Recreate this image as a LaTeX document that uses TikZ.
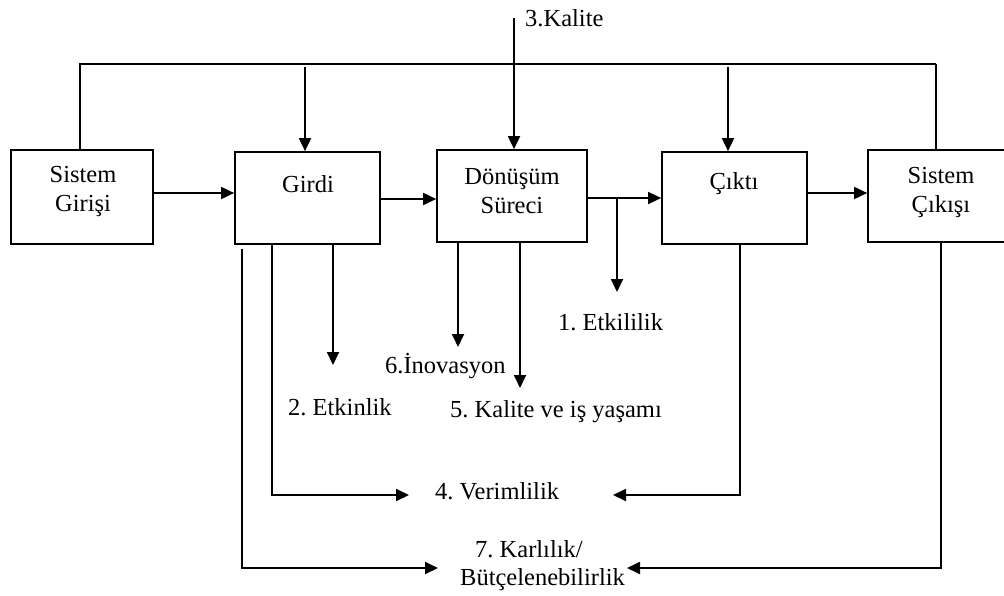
\documentclass[tikz,border=0pt]{standalone}
\usepackage{fontspec}
\setmainfont{Liberation Serif}
\usetikzlibrary{arrows.meta,calc}
\frenchspacing
\begin{document}
\begin{tikzpicture}[x=1pt,y=-1pt,
  box/.style={draw,line width=1.7pt,minimum height=92pt,inner sep=0pt},
  lbl/.style={font=\fontsize{24.5}{29}\selectfont,inner sep=0pt,align=center},
  link/.style={line width=1.8pt},
  arr/.style={link,-{Triangle[length=13pt,width=12pt]}}]
\useasboundingbox (0,0) rectangle (1004,595);
\clip (0,0) rectangle (1004,595);

% system boxes
\node[box,minimum width=142pt,minimum height=94pt] (sg) at (82,197) {};
\node[box,minimum width=145pt] (girdi) at (307.5,198) {};
\node[box,minimum width=150pt] (donusum) at (512,196) {};
\node[box,minimum width=145pt] (cikti) at (734.5,198) {};
\node[box,minimum width=146pt] (sc) at (941,196) {};

% box captions
\node[lbl] (sgText) at (83,191) {Sistem\\Girişi};
\node[lbl] (girdiText) at (308,184) {Girdi};
\node[lbl] (donText) at (512,191) {Dönüşüm\\Süreci};
\node[lbl] (ciktiText) at (734,184) {Çıktı};
\node[lbl] (scText) at (941,192) {Sistem\\Çıkışı};

% performance criteria
\node[lbl,anchor=base west] (kalite3) at (525,26) {3.Kalite};
\node[lbl,anchor=base west] (etkililik) at (558,330) {1. Etkililik};
\node[lbl,anchor=base west] (etkinlik) at (288,415) {2. Etkinlik};
\node[lbl,anchor=base west] (inovasyon) at (385,373) {6.İnovasyon};
\node[lbl,anchor=base west] (kalite5) at (450,417) {5. Kalite ve iş yaşamı};
\node[lbl,anchor=base west] (verim) at (435,499) {4. Verimlilik};
\node[lbl,anchor=base west] (karlilik) at (475,557) {7. Karlılık/};
\node[lbl,anchor=base west] (butce) at (460,585) {Bütçelenebilirlik};

% feedback frame along the top
\coordinate (tl) at (80,64);
\coordinate (tr) at (936,64);
\draw[link] ([xshift=-2pt]sg.north) -- (tl) -- (tr);
\draw[line width=2.8pt] (tr) -- ([xshift=-5pt]sc.north);

\coordinate (gIn) at (305,67);
\coordinate (cIn) at (728,67);
\coordinate (kIn) at (514,18);
\draw[arr] (gIn) -- ([xshift=-2.5pt]girdi.north);
\draw[arr] (cIn) -- ([xshift=-6.5pt]cikti.north);
\draw[arr] (kIn) -- ([xshift=2pt]donusum.north);

% main flow
\draw[arr] ($(sg.east)+(0,-4)$) -- ($(girdi.west)+(0,-5)$);
\draw[arr] ($(girdi.east)+(0,1)$) -- ($(donusum.west)+(0,3)$);
\draw[arr] ($(donusum.east)+(0,2)$) -- (cikti.west);
\draw[arr] ($(cikti.east)+(0,-5)$) -- ($(sc.west)+(0,-3)$);

% branches downward
\coordinate (br) at (617,198);
\coordinate (e1) at (617,292);
\draw[arr] (br) -- (e1);

\coordinate (e2) at (333,365);
\coordinate (e6) at (458,347);
\coordinate (e5) at (520,388);
\draw[arr] ($(girdi.south)+(25.5,0)$) -- (e2);
\draw[arr] ($(donusum.south)+(-54,0)$) -- (e6);
\draw[arr] ($(donusum.south)+(8,0)$) -- (e5);

\coordinate (vL) at (409,495);
\coordinate (vR) at (613,495);
\coordinate (kL) at (438,568);
\coordinate (kR) at (627,568);
\draw[arr] ($(girdi.south)+(-35.5,0)$) |- (vL);
\draw[arr] ($(girdi.south)+(-65.5,4)$) |- (kL);
\draw[arr] ($(cikti.south)+(5.5,0)$) |- (vR);
\draw[arr] (sc.south) |- (kR);
\end{tikzpicture}
\end{document}
